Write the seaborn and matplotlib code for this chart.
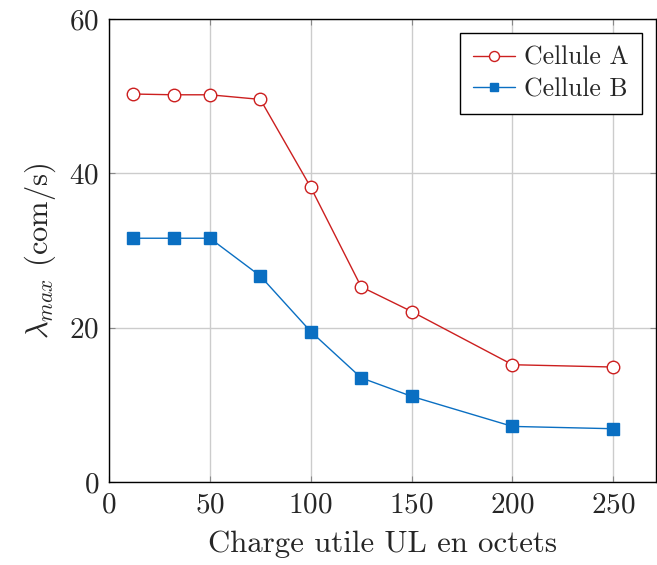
import matplotlib
matplotlib.use("Agg")
import matplotlib.pyplot as plt
import seaborn as sns
import pandas as pd

payload = [12, 32, 50, 75, 100, 125, 150, 200, 250]
cell_a = [50.3, 50.2, 50.2, 49.6, 38.2, 25.3, 22.1, 15.2, 14.9]
cell_b = [31.6, 31.6, 31.6, 26.7, 19.5, 13.5, 11.1, 7.2, 6.9]
x_ticks = [0, 50, 100, 150, 200, 250]
y_ticks = [0, 20, 40, 60]

sns.set_theme(style="ticks")
plt.rcParams.update({
    "font.family": "serif",
    "font.serif": ["cmr10"],
    "mathtext.fontset": "cm",
    "axes.formatter.use_mathtext": True,
    "axes.unicode_minus": False,
    "font.size": 22,
})

fig = plt.figure(figsize=(6.57, 5.65), dpi=100)
ax = fig.add_axes([0.166, 0.147, 0.832, 0.819])

df_a = pd.DataFrame({"x": payload, "y": cell_a})
df_b = pd.DataFrame({"x": payload, "y": cell_b})

red = "#cc1f1f"
blue = "#0a6fc2"
sns.lineplot(data=df_a, x="x", y="y", ax=ax, color=red, lw=1.0,
             marker="o", markersize=9.0, markerfacecolor="white",
             markeredgecolor=red, markeredgewidth=1.0, label="Cellule A")
sns.lineplot(data=df_b, x="x", y="y", ax=ax, color=blue, lw=1.0,
             marker="s", markersize=8.0, markerfacecolor=blue,
             markeredgecolor=blue, markeredgewidth=1.0, label="Cellule B")

ax.set_xlim(0, 271)
ax.set_ylim(0, 60)
ax.set_xticks(x_ticks)
ax.set_yticks(y_ticks)
ax.grid(True, color="#cccccc", lw=1.0)
ax.set_axisbelow(True)
for s in ax.spines.values():
    s.set_visible(True)
    s.set_color("black")
    s.set_linewidth(1.0)
ax.tick_params(direction="in", length=4, width=0.8, color="#888888",
               labelsize=21, top=True, right=True, pad=7)
ax.set_xlabel("Charge utile UL en octets", fontsize=22.2, labelpad=9)
ax.set_ylabel(r"$\lambda_{max}$ (com/s)", fontsize=22, labelpad=8)

leg = ax.legend(loc="upper right", fontsize=18.5, frameon=True, fancybox=False,
                edgecolor="black", framealpha=1, borderaxespad=0.55,
                handlelength=1.65, handletextpad=0.35, borderpad=0.5,
                labelspacing=0.3, markerscale=0.8)
leg.get_frame().set_linewidth(1.0)

fig.savefig("out.png", dpi=100)
